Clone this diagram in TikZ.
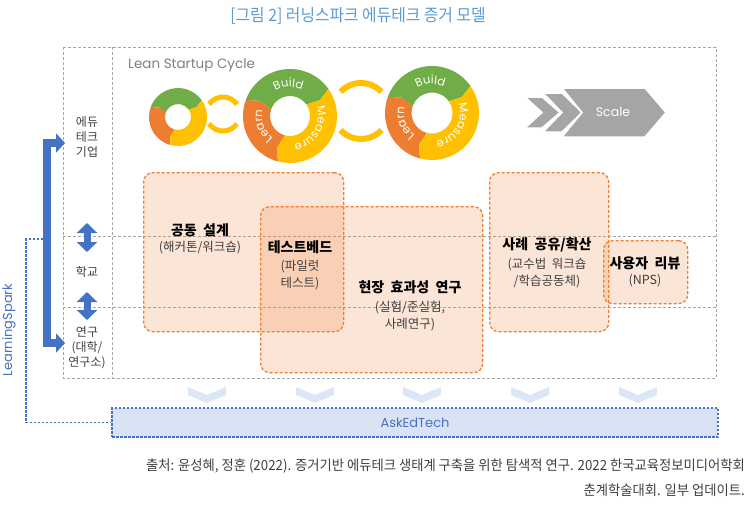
\documentclass[tikz,border=0pt]{standalone}
\usepackage{fontspec}
\usetikzlibrary{arrows.meta,decorations.text,calc}
\setmainfont{Noto Sans CJK KR}
\newfontfamily\krn[FakeStretch=0.95]{Noto Sans CJK KR}
\newfontfamily\krt[FakeStretch=0.93]{Noto Sans CJK KR}
\newfontfamily\krw[WordSpace=2]{Noto Sans CJK KR}
\newfontfamily\geo{Poppins}
\definecolor{cgreen}{HTML}{70AD47}
\definecolor{cyellow}{HTML}{FFC000}
\definecolor{corange}{HTML}{ED7D31}
\definecolor{cgray}{HTML}{A5A5A5}
\definecolor{cblue}{HTML}{4472C4}
\definecolor{ctitle}{HTML}{5B9BD5}
\definecolor{cfillblue}{HTML}{DAE3F3}
\definecolor{cchev}{HTML}{DCE7F5}
\definecolor{cgrid}{HTML}{A6A6A6}
\definecolor{ctext}{HTML}{404040}
\newcommand{\ringseg}[7]{%
  \fill[#7,shift={(#1,#2)}] (#5:#3) arc[start angle=#5,end angle=#6,radius=#3]
    -- ({#6-7}:{(#3+#4)/2}) -- (#6:#4) arc[start angle=#6,end angle=#5,radius=#4]
    -- ({#5-7}:{(#3+#4)/2}) -- cycle;}
\newcommand{\leanring}[4]{%
  \ringseg{#1}{#2}{#3}{#4}{255}{160}{corange}
  \ringseg{#1}{#2}{#3}{#4}{160}{35}{cgreen}
  \ringseg{#1}{#2}{#3}{#4}{35}{-105}{cyellow}}
\newcommand{\ringtext}[6]{%
  \path[shift={(#1,#2)},decorate,decoration={text along path,text color=white,text align=center,
    text={|\geo\fontsize{11.5}{13}\selectfont|#6}}] (#4:#3) arc[start angle=#4,end angle=#5,radius=#3];}
\tikzset{
  griddash/.style={draw=cgrid,line width=0.8pt,dash pattern=on 3pt off 2pt},
  obox/.style={draw=corange,line width=1.3pt,dash pattern=on 3pt off 2pt,rounded corners=9pt,
    fill=corange,fill opacity=0.2,draw opacity=1,anchor=north west,inner sep=0pt},
  btitle/.style={font=\krw\fontsize{14}{16}\selectfont\bfseries,text=black,align=center,inner sep=0pt},
  bsub/.style={font=\krw\fontsize{12.5}{17}\selectfont,text=ctext,align=center,inner sep=0pt},
  coltext/.style={font=\fontsize{12}{15}\selectfont,text=ctext,align=center,inner sep=0pt},
  dblarrow/.style={draw=cblue,line width=7pt,{Triangle[length=10pt,width=20pt]}-{Triangle[length=10pt,width=20pt]}},
  bracket/.style={draw=cblue,line width=8pt,line join=miter,{Triangle[length=9pt,width=19pt]}-{Triangle[length=9pt,width=19pt]}},
  bluedash/.style={draw=cblue,line width=1.5pt,dash pattern=on 2.5pt off 1.5pt},
  downchev/.style={fill=cchev},
  yarc/.style={draw=cyellow,line cap=butt}
}
\begin{document}
\begin{tikzpicture}[x=1pt,y=1pt]
\path[use as bounding box] (0,0) rectangle (752,-504);
% title
\node[font=\krt\fontsize{17}{20}\selectfont,text=ctitle,inner sep=0pt] (title) at (358,-16) {[그림 2] 러닝스파크 에듀테크 증거 모델};
% grid
\draw[griddash] (63,-47) rectangle (716,-378);
\draw[griddash] (112,-47) -- (112,-378);
\draw[griddash] (63,-236) -- (716,-236);
\draw[griddash] (63,-307) -- (716,-307);
% lean startup
\node[anchor=west,font=\geo\fontsize{13.5}{15}\selectfont,text=gray,inner sep=0pt] (lean) at (128,-65) {Lean Startup Cycle};
\leanring{178}{-117}{29}{13}
\leanring{290}{-116}{47}{20}
\leanring{432}{-113}{47}{20.5}
\ringtext{290}{-116}{29}{130}{56}{Build}
\ringtext{290}{-116}{28}{50}{-112}{Measure}
\ringtext{290}{-116}{28}{260}{140}{Learn}
\ringtext{432}{-113}{29}{130}{56}{Build}
\ringtext{432}{-113}{28}{50}{-112}{Measure}
\ringtext{432}{-113}{28}{260}{140}{Learn}
\draw[yarc,line width=5pt,shift={(223,-114)}] (145:17) arc[start angle=145,end angle=35,radius=17];
\draw[yarc,line width=5pt,shift={(223,-114)}] (215:17) arc[start angle=215,end angle=325,radius=17];
\draw[yarc,line width=6pt,shift={(361,-111)}] (137:28) arc[start angle=137,end angle=43,radius=28];
\draw[yarc,line width=6pt,shift={(361,-111)}] (223:28) arc[start angle=223,end angle=317,radius=28];
% scale chevrons
\filldraw[fill=cgray,draw=white,line width=1.5pt] (525,-97) -- (542,-97) -- (560,-112.5) -- (542,-128) -- (525,-128) -- (542,-112.5) -- cycle;
\filldraw[fill=cgray,draw=white,line width=1.5pt] (543,-93) -- (562,-93) -- (582,-112.5) -- (562,-132) -- (543,-132) -- (562,-112.5) -- cycle;
\filldraw[fill=cgray,draw=white,line width=1.5pt] (562,-88) -- (645,-88) -- (666,-112.5) -- (645,-137) -- (562,-137) -- (582,-112.5) -- cycle;
\node[font=\geo\fontsize{12.5}{14}\selectfont,text=white,inner sep=0pt] (scale) at (613,-112) {Scale};
% orange boxes
\node[obox,minimum width=200pt,minimum height=159pt] (codesign) at (143,-172) {};
\node[obox,minimum width=222pt,minimum height=166pt] (field) at (260,-206) {};
\node[obox,minimum width=119pt,minimum height=159pt] (share) at (489,-172) {};
\node[obox,minimum width=84pt,minimum height=63pt] (review) at (603,-240) {};
\node[btitle] (t1) at (200,-230) {공동 설계};
\node[bsub] (s1) at (200,-248) {(해커톤/워크숍)};
\node[btitle] (t2) at (300,-247) {테스트베드};
\node[bsub] (s2) at (300,-275) {(파일럿\\테스트)};
\node[btitle] (t3) at (410,-287) {현장 효과성 연구};
\node[bsub] (s3) at (410,-316) {(실험/준실험,\\사례연구)};
\node[btitle] (t4) at (547,-245) {사례 공유/확산};
\node[bsub] (s4) at (547,-273) {(교수법 워크숍\\/학습공동체)};
\node[btitle] (t5) at (645,-263) {사용자 리뷰};
\node[bsub] (s5) at (645,-281) {(NPS)};
% left column
\node[coltext] (edtech) at (87,-137) {에듀\\테크\\기업};
\node[coltext] (school) at (87,-272) {학교};
\node[coltext] (research) at (87,-348) {연구\\(대학/\\연구소)};
\coordinate (a1t) at (87,-223); \coordinate (a1b) at (87,-252);
\coordinate (a2t) at (87,-292); \coordinate (a2b) at (87,-320);
\draw[dblarrow] (a1t) -- (a1b);
\draw[dblarrow] (a2t) -- (a2b);
\coordinate (brt) at (65,-143); \coordinate (brb) at (65,-343);
\draw[bracket] (brt) -- (47,-143) -- (47,-343) -- (brb);
% AskEdTech
\node[draw=cblue,fill=cfillblue,line width=1.5pt,dash pattern=on 2.5pt off 1.5pt,minimum width=606pt,minimum height=29pt,
  inner sep=0pt,font=\geo\fontsize{13}{15}\selectfont,text=cblue] (ask) at (415,-422.5) {AskEdTech};
\coordinate (ls) at (43,-239);
\draw[bluedash] (ls) -- (26,-239) |- (ask.west);
\node[rotate=90,font=\geo\fontsize{13}{15}\selectfont,text=cblue,inner sep=0pt] (lspark) at (9,-330) {LearningSpark};
% down chevrons
\foreach \cx [count=\i] in {207,315,422,530,638}{
  \fill[downchev] (\cx-19,-387) -- (\cx,-395) -- (\cx+19,-387) -- (\cx+19,-395) -- (\cx,-403) -- (\cx-19,-395) -- cycle;
}
% footer
\node[anchor=east,font=\krn\fontsize{14}{16}\selectfont,text=ctext,inner sep=0pt] (src1) at (745,-466) {출처: 윤성혜, 정훈 (2022). 증거기반 에듀테크 생태계 구축을 위한 탐색적 연구. 2022 한국교육정보미디어학회};
\node[anchor=east,font=\krn\fontsize{14}{16}\selectfont,text=ctext,inner sep=0pt] (src2) at (745,-490) {춘계학술대회. 일부 업데이트.};
\end{tikzpicture}
\end{document}
